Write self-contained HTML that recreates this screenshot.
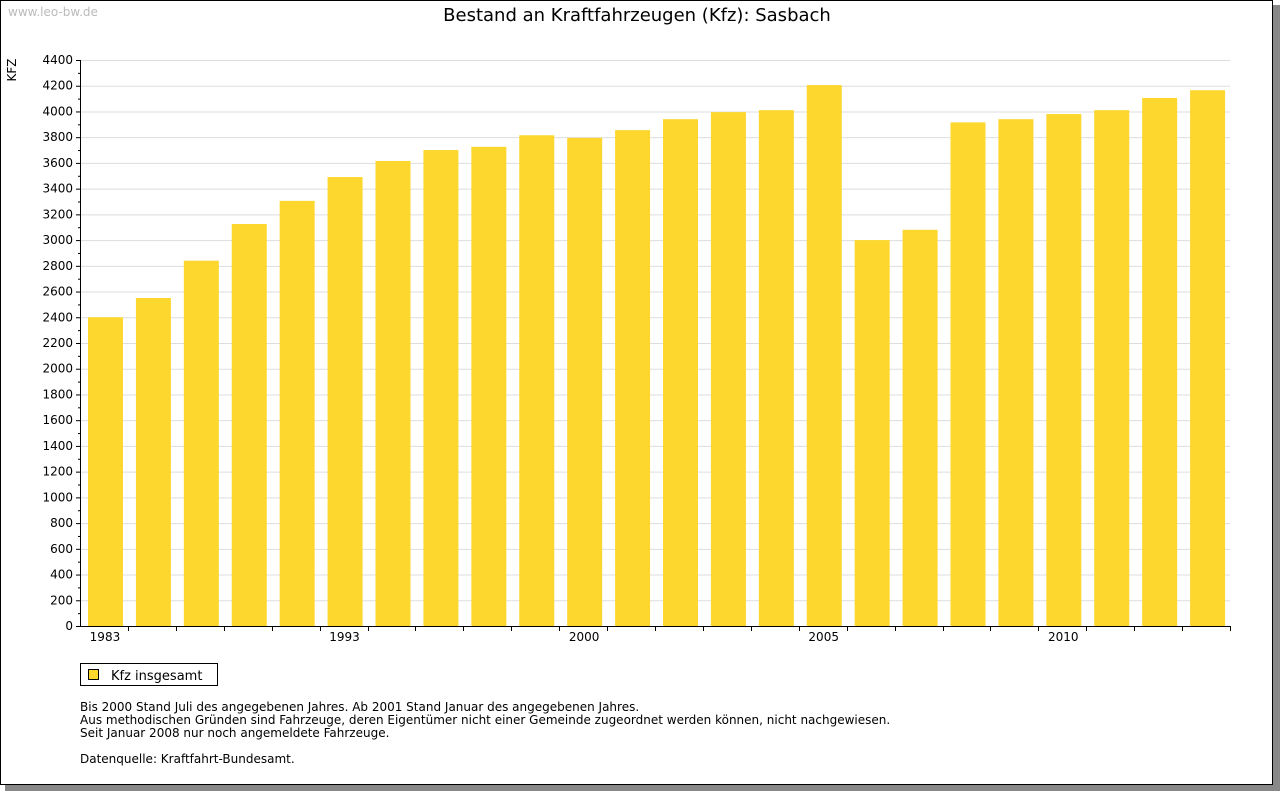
<!DOCTYPE html>
<html><head><meta charset="utf-8"><style>
body{margin:0;background:#fff;width:1280px;height:791px;overflow:hidden;font-family:"DejaVu Sans","Liberation Sans",sans-serif}
</style></head><body>
<svg width="1280" height="791" xmlns="http://www.w3.org/2000/svg">
<rect x="5" y="5" width="1275" height="786" fill="#888"/>
<rect x="0.5" y="0.5" width="1272" height="784" fill="#fff" stroke="#000"/>
<text x="8" y="16" font-size="12" fill="#bbb">www.leo-bw.de</text>
<text x="637" y="21" font-size="18" text-anchor="middle" fill="#000">Bestand an Kraftfahrzeugen (Kfz): Sasbach</text>
<text transform="translate(16,70) rotate(-90)" font-size="12" text-anchor="middle">KFZ</text>
<g id="grid"></g><g id="bars"></g><g id="axes"></g>
<rect x="80.5" y="663.5" width="137" height="22" fill="#fff" stroke="#000"/>
<rect x="88.5" y="669.5" width="10" height="10" fill="#fdd72e" stroke="#000"/>
<text x="111" y="680" font-size="13">Kfz insgesamt</text>
<g font-size="12">
<text x="80" y="711">Bis 2000 Stand Juli des angegebenen Jahres. Ab 2001 Stand Januar des angegebenen Jahres.</text>
<text x="80" y="724">Aus methodischen Gründen sind Fahrzeuge, deren Eigentümer nicht einer Gemeinde zugeordnet werden können, nicht nachgewiesen.</text>
<text x="80" y="737">Seit Januar 2008 nur noch angemeldete Fahrzeuge.</text>
<text x="80" y="763">Datenquelle: Kraftfahrt-Bundesamt.</text>
</g>
</svg>
<script>
const categories=["1983","","","","","1993","","","","","2000","","","","","2005","","","","","2010","","",""];
const values=[2400,2550,2840,3125,3305,3490,3615,3700,3725,3815,3795,3855,3940,3995,4010,4205,3000,3080,3915,3940,3980,4010,4105,4165];
const yTicks=[0,200,400,600,800,1000,1200,1400,1600,1800,2000,2200,2400,2600,2800,3000,3200,3400,3600,3800,4000,4200,4400];
const NS="http://www.w3.org/2000/svg";
const X0=80,X1=1230,Y0=626,Y1=60,YMAX=4400;
const slot=(X1-X0)/categories.length;
const y=v=>Y0-(v/YMAX)*(Y0-Y1);
const xs=i=>X0+i*slot;
function mk(t,a,p){const e=document.createElementNS(NS,t);for(const k in a)e.setAttribute(k,a[k]);p.appendChild(e);return e;}
const grid=document.getElementById('grid'),bars=document.getElementById('bars'),axes=document.getElementById('axes');
yTicks.forEach(v=>{
 const g=mk('line',{x1:X0,x2:X1,y1:y(v)+0.5,y2:y(v)+0.5,stroke:'#ddd'},grid);
 
 
 mk('line',{x1:X0-4,x2:X0,y1:y(v)+0.5,y2:y(v)+0.5,stroke:'#000'},axes);
 if(v<YMAX) mk('line',{x1:X0-2,x2:X0,y1:y(v+100)+0.5,y2:y(v+100)+0.5,stroke:'#000'},axes);
 const t=mk('text',{x:X0-7,y:y(v)+4,'font-size':12,'text-anchor':'end'},axes);
 t.textContent=v;
 
 
});
values.forEach((v,i)=>{
 const r=mk('rect',{x:xs(i)+8,y:y(v),width:35,height:Y0-y(v),fill:'#fdd72e'},bars);
 
 
});
categories.forEach((c,i)=>{
 mk('line',{x1:Math.round(xs(i+1))+0.5,x2:Math.round(xs(i+1))+0.5,y1:Y0,y2:Y0+5,stroke:'#000'},axes);
 if(c){const t=mk('text',{x:xs(i)+slot/2+1,y:Y0+15,'font-size':12,'text-anchor':'middle'},axes);t.textContent=c;
 
 }
});
mk('line',{x1:X0+0.5,x2:X0+0.5,y1:Y1,y2:Y0+1,stroke:'#000'},axes);
mk('line',{x1:X0,x2:X1,y1:Y0+0.5,y2:Y0+0.5,stroke:'#000'},axes);
</script>
</body></html>
